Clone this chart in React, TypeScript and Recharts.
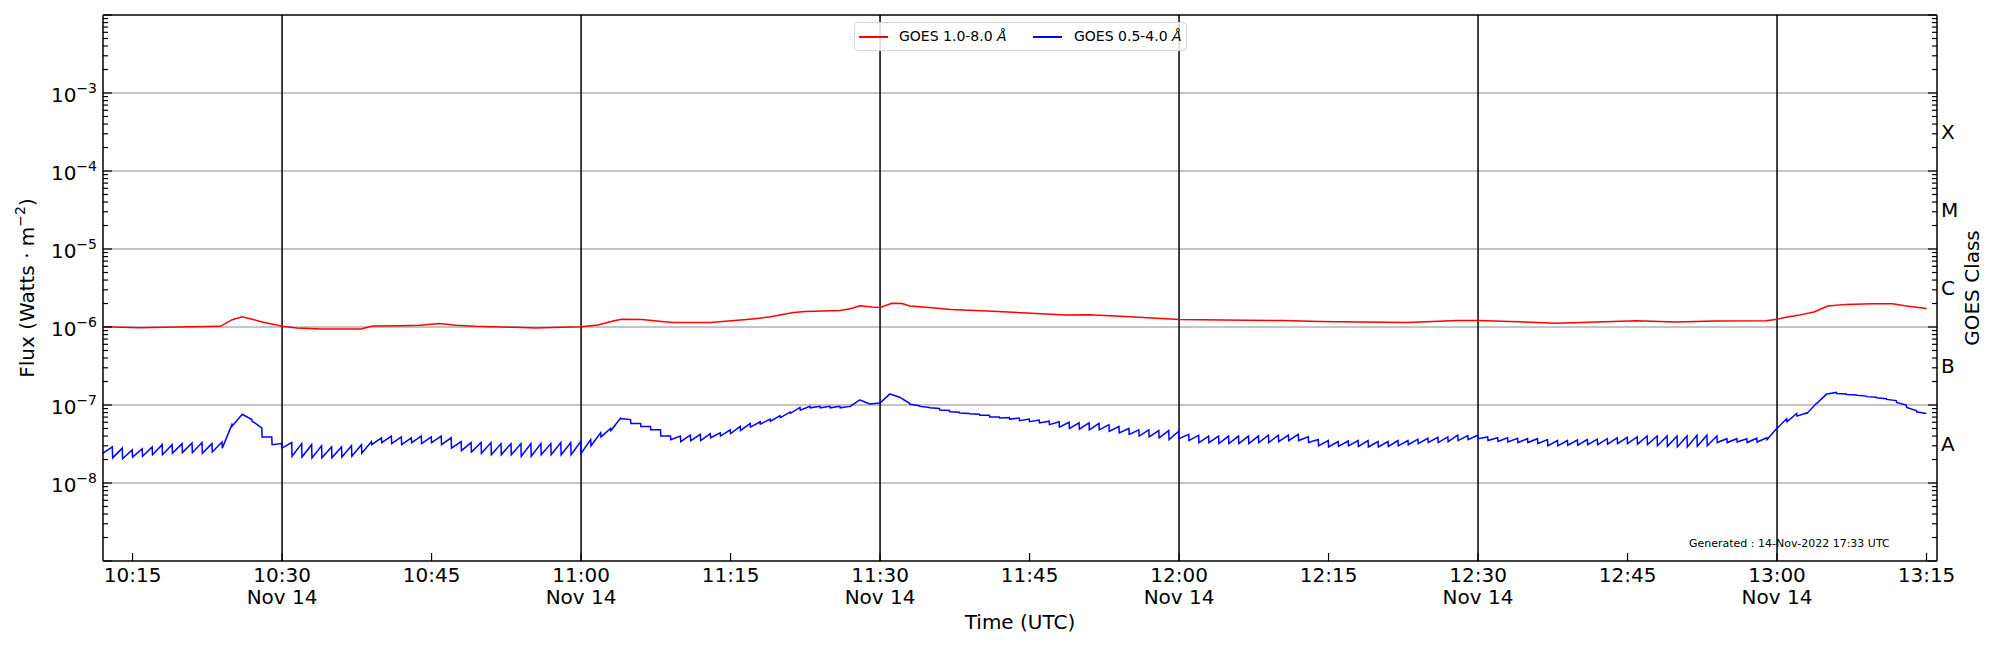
import React from 'react';
import { LineChart, Line, XAxis, YAxis, ReferenceLine, Legend } from 'recharts';

const FONT = "'DejaVu Sans', 'Liberation Sans', sans-serif";

// ---------------- data ----------------
// GOES 1.0-8.0 Å (W m^-2)
const redTimes = [
  '10:12:06', '10:15:42', '10:19:36', '10:23:48', '10:25:00', '10:26:00', '10:27:00', '10:28:00',
  '10:29:12', '10:30:00', '10:31:30', '10:33:54', '10:37:54', '10:39:06', '10:41:54', '10:43:48',
  '10:45:48', '10:47:24', '10:49:24', '10:53:24', '10:55:24', '11:00:00', '11:01:42', '11:03:18',
  '11:04:06', '11:06:06', '11:08:06', '11:09:12', '11:13:00', '11:16:54', '11:18:54', '11:21:18',
  '11:22:30', '11:26:00', '11:27:00', '11:28:00', '11:29:12', '11:30:00', '11:31:12', '11:32:12',
  '11:33:00', '11:35:12', '11:37:06', '11:40:42', '11:44:42', '11:48:36', '11:51:00', '11:54:36',
  '12:00:00', '12:04:30', '12:10:24', '12:14:06', '12:18:06', '12:22:54', '12:28:00', '12:30:00',
  '12:34:00', '12:37:54', '12:41:54', '12:45:54', '12:49:48', '12:53:48', '12:58:54', '13:00:00',
  '13:00:54', '13:02:06', '13:03:42', '13:05:06', '13:06:54', '13:09:36', '13:11:36', '13:12:48',
  '13:15:00',
];
const redFlux = [
  1.01e-6, 0.98e-6, 1.0e-6, 1.02e-6, 1.24e-6, 1.35e-6, 1.26e-6, 1.16e-6,
  1.08e-6, 1.02e-6, 0.97e-6, 0.94e-6, 0.94e-6, 1.03e-6, 1.04e-6, 1.05e-6,
  1.11e-6, 1.05e-6, 1.02e-6, 0.99e-6, 0.97e-6, 1.01e-6, 1.06e-6, 1.2e-6,
  1.26e-6, 1.25e-6, 1.18e-6, 1.14e-6, 1.14e-6, 1.26e-6, 1.34e-6, 1.53e-6,
  1.58e-6, 1.63e-6, 1.71e-6, 1.87e-6, 1.8e-6, 1.78e-6, 2.02e-6, 2.0e-6,
  1.86e-6, 1.77e-6, 1.68e-6, 1.6e-6, 1.51e-6, 1.43e-6, 1.44e-6, 1.36e-6,
  1.25e-6, 1.23e-6, 1.21e-6, 1.18e-6, 1.16e-6, 1.14e-6, 1.21e-6, 1.21e-6,
  1.17e-6, 1.12e-6, 1.16e-6, 1.2e-6, 1.16e-6, 1.19e-6, 1.2e-6, 1.26e-6,
  1.33e-6, 1.41e-6, 1.56e-6, 1.86e-6, 1.95e-6, 1.98e-6, 1.98e-6, 1.87e-6,
  1.73e-6,
];

// GOES 0.5-4.0 Å: one value at the start and one at the end of every minute, from 10:12 to 13:14
const blueFirstMinute = '10:12';
const blueEndSeconds = 58;
const blueStartFlux = [
  2.4e-8, 2.1e-8, 2.05e-8, 2.15e-8, 2.2e-8, 2.3e-8, 2.3e-8, 2.4e-8, 2.45e-8, 2.45e-8,
  2.4e-8, 2.5e-8, 2.8e-8, 5.4e-8, 7.6e-8, 6.2e-8, 3.9e-8, 3.1e-8, 2.8e-8, 2.2e-8,
  2.15e-8, 2.1e-8, 2.1e-8, 2.1e-8, 2.15e-8, 2.2e-8, 2.4e-8, 3.1e-8, 3.3e-8, 3.2e-8,
  3.1e-8, 3.3e-8, 3.2e-8, 3.3e-8, 3.1e-8, 2.8e-8, 2.6e-8, 2.5e-8, 2.4e-8, 2.3e-8,
  2.3e-8, 2.3e-8, 2.2e-8, 2.2e-8, 2.3e-8, 2.3e-8, 2.3e-8, 2.3e-8, 2.4e-8, 3.0e-8,
  3.9e-8, 4.7e-8, 6.7e-8, 5.8e-8, 5.3e-8, 4.8e-8, 4.0e-8, 3.6e-8, 3.4e-8, 3.5e-8,
  3.5e-8, 3.8e-8, 4.0e-8, 4.3e-8, 4.7e-8, 5.2e-8, 5.7e-8, 6.2e-8, 6.9e-8, 7.8e-8,
  8.6e-8, 9.2e-8, 9.2e-8, 9.2e-8, 9.2e-8, 9.6e-8, 11.6e-8, 10.3e-8, 10.6e-8, 13.8e-8,
  12.5e-8, 10.2e-8, 9.6e-8, 9.2e-8, 8.6e-8, 8.2e-8, 7.9e-8, 7.7e-8, 7.4e-8, 7.0e-8,
  6.8e-8, 6.6e-8, 6.3e-8, 6.1e-8, 5.9e-8, 5.6e-8, 5.2e-8, 5.0e-8, 4.9e-8, 4.8e-8,
  4.8e-8, 4.6e-8, 4.4e-8, 4.2e-8, 4.0e-8, 3.9e-8, 3.8e-8, 3.6e-8, 3.7e-8, 3.5e-8,
  3.3e-8, 3.3e-8, 3.2e-8, 3.2e-8, 3.2e-8, 3.2e-8, 3.3e-8, 3.3e-8, 3.4e-8, 3.5e-8,
  3.5e-8, 3.3e-8, 3.0e-8, 2.9e-8, 2.95e-8, 3.0e-8, 2.95e-8, 2.9e-8, 2.9e-8, 2.95e-8,
  3.0e-8, 3.1e-8, 3.2e-8, 3.3e-8, 3.3e-8, 3.4e-8, 3.5e-8, 3.6e-8, 3.7e-8, 3.5e-8,
  3.4e-8, 3.35e-8, 3.3e-8, 3.3e-8, 3.2e-8, 3.0e-8, 3.0e-8, 3.05e-8, 3.05e-8, 3.1e-8,
  3.1e-8, 3.15e-8, 3.2e-8, 3.2e-8, 3.15e-8, 3.1e-8, 3.0e-8, 2.95e-8, 2.9e-8, 2.9e-8,
  2.95e-8, 3.0e-8, 3.3e-8, 3.3e-8, 3.35e-8, 3.3e-8, 3.35e-8, 3.6e-8, 5.0e-8, 6.1e-8,
  7.2e-8, 7.8e-8, 10.5e-8, 13.8e-8, 14.0e-8, 13.6e-8, 13.3e-8, 12.8e-8, 12.4e-8, 11.8e-8,
  10.8e-8, 9.3e-8, 8.2e-8,
];
const blueEndFlux = [
  2.9e-8, 2.8e-8, 2.65e-8, 2.75e-8, 2.9e-8, 3.1e-8, 3.1e-8, 3.2e-8, 3.25e-8, 3.3e-8,
  3.2e-8, 3.35e-8, 5.6e-8, 7.5e-8, 6.5e-8, 5.1e-8, 3.9e-8, 3.2e-8, 3.3e-8, 3.2e-8,
  3.1e-8, 3.0e-8, 2.9e-8, 2.9e-8, 3.0e-8, 3.1e-8, 3.4e-8, 3.8e-8, 4.0e-8, 3.9e-8,
  3.8e-8, 4.0e-8, 3.9e-8, 4.0e-8, 3.8e-8, 3.4e-8, 3.3e-8, 3.3e-8, 3.3e-8, 3.2e-8,
  3.2e-8, 3.2e-8, 3.2e-8, 3.2e-8, 3.2e-8, 3.3e-8, 3.3e-8, 3.4e-8, 3.6e-8, 4.4e-8,
  5.0e-8, 6.8e-8, 6.5e-8, 5.8e-8, 5.3e-8, 4.8e-8, 4.0e-8, 4.0e-8, 4.1e-8, 4.2e-8,
  4.3e-8, 4.4e-8, 4.8e-8, 5.3e-8, 5.8e-8, 6.1e-8, 6.6e-8, 7.3e-8, 8.1e-8, 9.3e-8,
  9.6e-8, 9.6e-8, 9.6e-8, 9.6e-8, 9.6e-8, 11.6e-8, 10.3e-8, 10.6e-8, 13.8e-8, 12.6e-8,
  10.5e-8, 9.8e-8, 9.3e-8, 9.0e-8, 8.5e-8, 8.1e-8, 7.8e-8, 7.6e-8, 7.4e-8, 7.0e-8,
  6.9e-8, 6.8e-8, 6.6e-8, 6.4e-8, 6.2e-8, 6.1e-8, 6.0e-8, 5.9e-8, 5.9e-8, 5.8e-8,
  5.6e-8, 5.3e-8, 5.0e-8, 4.8e-8, 4.8e-8, 4.7e-8, 4.7e-8, 4.6e-8, 4.2e-8, 4.1e-8,
  4.0e-8, 4.0e-8, 4.0e-8, 4.0e-8, 4.0e-8, 4.0e-8, 4.1e-8, 4.1e-8, 4.1e-8, 4.2e-8,
  3.9e-8, 3.6e-8, 3.5e-8, 3.4e-8, 3.45e-8, 3.5e-8, 3.5e-8, 3.4e-8, 3.4e-8, 3.5e-8,
  3.5e-8, 3.65e-8, 3.75e-8, 3.85e-8, 3.9e-8, 4.1e-8, 4.05e-8, 4.1e-8, 3.9e-8, 3.8e-8,
  3.8e-8, 3.75e-8, 3.7e-8, 3.7e-8, 3.6e-8, 3.5e-8, 3.5e-8, 3.55e-8, 3.6e-8, 3.65e-8,
  3.7e-8, 3.8e-8, 3.85e-8, 3.9e-8, 4.0e-8, 4.0e-8, 4.0e-8, 4.0e-8, 4.0e-8, 4.1e-8,
  4.1e-8, 4.0e-8, 3.7e-8, 3.7e-8, 3.7e-8, 3.75e-8, 3.8e-8, 5.0e-8, 6.7e-8, 7.8e-8,
  7.9e-8, 10.5e-8, 13.8e-8, 14.5e-8, 13.8e-8, 13.4e-8, 13.0e-8, 12.6e-8, 12.0e-8, 11.4e-8,
  10.0e-8, 8.5e-8, 7.8e-8,
];

const seriesNames = ['GOES 1.0-8.0', 'GOES 0.5-4.0'];
const seriesColors = ['#ff0000', '#0000ff'];

const xTickLabels = ['10:15', '10:30', '10:45', '11:00', '11:15', '11:30', '11:45', '12:00', '12:15', '12:30', '12:45', '13:00', '13:15'];
const dateTickLabels = ['10:30', '11:00', '11:30', '12:00', '12:30', '13:00'];
const dateLabel = 'Nov 14';
const xRange = ['10:12:02', '13:16:03'];
const gridExponents = [-8, -7, -6, -5, -4, -3];
const axisExponents = [-9, -2];
const goesClasses = ['A', 'B', 'C', 'M', 'X'];
const goesClassExponents = [-7.5, -6.5, -5.5, -4.5, -3.5];
const generatedText = 'Generated : 14-Nov-2022 17:33 UTC';

// ---------------- helpers ----------------
const toMin = (s: string) => {
  const [h, m, sec] = s.split(':');
  return Number(h) * 60 + Number(m) + (sec ? Number(sec) / 60 : 0);
};

const redData = redTimes.map((t, i) => ({ t: toMin(t), flux: redFlux[i] }));
const blueData: { t: number; flux: number }[] = [];
const blueT0 = toMin(blueFirstMinute);
blueStartFlux.forEach((v, i) => {
  blueData.push({ t: blueT0 + i, flux: v });
  blueData.push({ t: blueT0 + i + blueEndSeconds / 60, flux: blueEndFlux[i] });
});

const X_MIN = toMin(xRange[0]);
const X_MAX = toMin(xRange[1]);
const Y_MIN = Math.pow(10, axisExponents[0]);
const Y_MAX = Math.pow(10, axisExponents[1]);

const logTicks: number[] = [];
for (let e = axisExponents[0]; e < axisExponents[1]; e++) {
  for (let m = 1; m <= 9; m++) logTicks.push(m * Math.pow(10, e));
}
logTicks.push(Y_MAX);
const classTicks = goesClassExponents.map((e) => Math.pow(10, e));
const xTicks = xTickLabels.map(toMin);

const isMajor = (v: number) => {
  const e = Math.log10(v);
  return Math.abs(e - Math.round(e)) < 1e-6;
};

// ---------------- ticks & labels ----------------
const XTick = (props: any) => {
  const { x, y, payload } = props;
  const idx = xTicks.findIndex((t) => Math.abs(t - payload.value) < 1e-6);
  const label = idx >= 0 ? xTickLabels[idx] : '';
  const showDate = dateTickLabels.includes(label);
  return (
    <g>
      <line x1={x} x2={x} y1={y} y2={y - 8} stroke="#000" strokeWidth={1.2} />
      <text x={x} y={y + 21} textAnchor="middle" fontFamily={FONT} fontSize={20} fill="#000">
        {label}
      </text>
      {showDate && (
        <text x={x} y={y + 43} textAnchor="middle" fontFamily={FONT} fontSize={20} fill="#000">
          {dateLabel}
        </text>
      )}
    </g>
  );
};

const LeftTick = (props: any) => {
  const { x, y, payload } = props;
  const v = payload.value;
  const major = isMajor(v);
  const exp = Math.round(Math.log10(v));
  return (
    <g>
      <line x1={x} x2={x + (major ? 9 : 5)} y1={y} y2={y} stroke="#000" strokeWidth={1.2} />
      {major && gridExponents.includes(exp) && (
        <text x={x - 6} y={y + 9} textAnchor="end" fontFamily={FONT} fontSize={20} fill="#000">
          <tspan>10</tspan>
          <tspan fontSize={14} dy={-9}>{'\u2212' + Math.abs(exp)}</tspan>
        </text>
      )}
    </g>
  );
};

const RightTick = (props: any) => {
  const { x, y, payload } = props;
  const v = payload.value;
  const e = Math.log10(v);
  const ci = goesClassExponents.findIndex((c) => Math.abs(c - e) < 1e-6);
  if (ci >= 0) {
    return (
      <text x={x + 4} y={y + 7} fontFamily={FONT} fontSize={20} fill="#000">
        {goesClasses[ci]}
      </text>
    );
  }
  const major = isMajor(v);
  return <line x1={x} x2={x - (major ? 9 : 5)} y1={y} y2={y} stroke="#000" strokeWidth={1.2} />;
};

const FluxLabel = () => (
  <text
    x={34}
    y={288}
    transform="rotate(-90 34 288)"
    textAnchor="middle"
    fontFamily={FONT}
    fontSize={20}
    fill="#000"
  >
    <tspan>Flux (Watts · m</tspan>
    <tspan fontSize={14} dy={-9}>{'\u22122'}</tspan>
    <tspan dy={9}>)</tspan>
  </text>
);

const ClassLabel = () => (
  <text
    x={1979}
    y={288}
    transform="rotate(-90 1979 288)"
    textAnchor="middle"
    fontFamily={FONT}
    fontSize={20}
    fill="#000"
  >
    GOES Class
  </text>
);

const TimeLabel = () => (
  <g>
    <text x={1020} y={629} textAnchor="middle" fontFamily={FONT} fontSize={20} fill="#000">
      Time (UTC)
    </text>
    <text x={1689} y={547} fontFamily={FONT} fontSize={11} fill="#000">
      {generatedText}
    </text>
  </g>
);

const LegendBox = () => {
  const lineLeft = [4, 178];
  const textLeft = [44, 219];
  return (
    <div
      style={{
        position: 'relative',
        width: 333,
        height: 29,
        boxSizing: 'border-box',
        border: '1px solid #d6d6d6',
        borderRadius: 4,
        background: 'rgba(255,255,255,0.85)',
        fontFamily: FONT,
        fontSize: 14,
        color: '#000',
      }}
    >
      {seriesNames.map((name, i) => (
        <React.Fragment key={name}>
          <div
            style={{
              position: 'absolute',
              left: lineLeft[i],
              top: 13,
              width: 29,
              height: 1.5,
              background: seriesColors[i],
            }}
          />
          <div
            style={{
              position: 'absolute',
              left: textLeft[i],
              top: 0,
              lineHeight: '27px',
              whiteSpace: 'nowrap',
            }}
          >
            {name} <i>Å</i>
          </div>
        </React.Fragment>
      ))}
    </div>
  );
};

export default function App() {
  return (
    <div style={{ position: 'absolute', left: 0, top: 0, width: 2000, height: 650, background: '#fff' }}>
      <LineChart width={2000} height={650} margin={{ top: 15, right: 0, bottom: 0, left: 0 }}>
        <XAxis
          type="number"
          dataKey="t"
          domain={[X_MIN, X_MAX]}
          allowDataOverflow
          ticks={xTicks}
          interval={0}
          tickSize={0}
          tickMargin={0}
          tickLine={false}
          axisLine={{ stroke: '#000', strokeWidth: 1.5 }}
          height={89}
          tick={<XTick />}
          label={<TimeLabel />}
        />
        <YAxis
          yAxisId="left"
          type="number"
          scale="log"
          domain={[Y_MIN, Y_MAX]}
          allowDataOverflow
          ticks={logTicks}
          interval={0}
          width={103}
          tickSize={0}
          tickMargin={0}
          tickLine={false}
          axisLine={{ stroke: '#000', strokeWidth: 1.5 }}
          tick={<LeftTick />}
          label={<FluxLabel />}
        />
        <YAxis
          yAxisId="right"
          orientation="right"
          type="number"
          scale="log"
          domain={[Y_MIN, Y_MAX]}
          allowDataOverflow
          ticks={[...logTicks, ...classTicks].sort((a, b) => a - b)}
          interval={0}
          width={63}
          tickSize={0}
          tickMargin={0}
          tickLine={false}
          axisLine={{ stroke: '#000', strokeWidth: 1.5 }}
          tick={<RightTick />}
          label={<ClassLabel />}
        />
        {gridExponents.map((e) => (
          <ReferenceLine
            key={'g' + e}
            yAxisId="left"
            y={Math.pow(10, e)}
            stroke="#b0b0b0"
            strokeWidth={1.5}
            ifOverflow="visible"
          />
        ))}
        <ReferenceLine yAxisId="left" y={Y_MAX} stroke="#000" strokeWidth={1.5} ifOverflow="visible" />
        {dateTickLabels.map((l) => (
          <ReferenceLine
            key={'v' + l}
            yAxisId="left"
            x={toMin(l)}
            stroke="#000"
            strokeWidth={1.5}
            ifOverflow="visible"
          />
        ))}
        <Line
          yAxisId="left"
          data={redData}
          dataKey="flux"
          type="linear"
          stroke={seriesColors[0]}
          strokeWidth={1.5}
          dot={false}
          activeDot={false}
          isAnimationActive={false}
          name={seriesNames[0]}
        />
        <Line
          yAxisId="left"
          data={blueData}
          dataKey="flux"
          type="linear"
          stroke={seriesColors[1]}
          strokeWidth={1.5}
          dot={false}
          activeDot={false}
          isAnimationActive={false}
          name={seriesNames[1]}
        />
        <Legend
          layout="horizontal"
          verticalAlign="middle"
          align="center"
          wrapperStyle={{ left: 854, top: 22, width: 333, height: 29 }}
          content={<LegendBox />}
        />
      </LineChart>
    </div>
  );
}
